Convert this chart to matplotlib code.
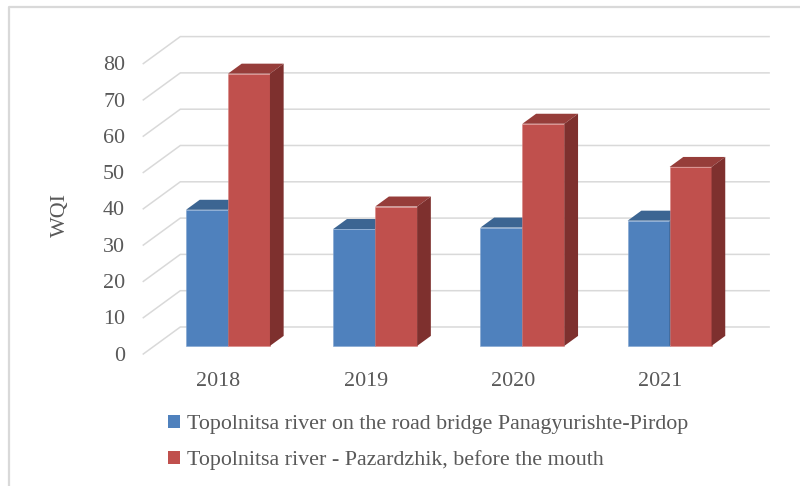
import numpy as np
import matplotlib.pyplot as plt
from matplotlib.patches import Polygon, Rectangle
from matplotlib.lines import Line2D

years = ['2018', '2019', '2020', '2021']
bridge = [37.5, 32.2, 32.6, 34.5]
pazardzhik = [75.0, 38.4, 61.2, 49.3]
series_names = ['Topolnitsa river on the road bridge Panagyurishte-Pirdop',
                'Topolnitsa river - Pazardzhik, before the mouth']
yticks = [0, 10, 20, 30, 40, 50, 60, 70, 80]

# colours: front, top, side
blue = ('#4F81BD', '#3C6592', '#2F5075')
red = ('#C0504D', '#963D3A', '#7E302E')

plt.rcParams['font.family'] = ['Liberation Serif', 'DejaVu Serif']
txt_col = '#595959'
grid_col = '#D9D9D9'
fs = 15.8

# depth of the box (fake 3d), in data units
DX = 0.2514
DY = 7.44
d_front, d_back = 0.3, 0.67
bw = 0.285


def proj(x, v, d):
    return (x + d * DX, v + d * DY)


fig = plt.figure(figsize=(8, 4.86), dpi=100)
ax = fig.add_axes([0, 0, 1, 1])
ax.set_xlim(-216.9 / 147.2, (800 - 216.9) / 147.2)
ax.set_ylim(-(486 - 354) / 3.63, 354 / 3.63)
ax.axis('off')

# walls
for v in yticks:
    x0, y0 = proj(-0.5, v, 0)
    x1, y1 = proj(-0.5, v, 1)
    x2, y2 = proj(3.5, v, 1)
    ax.plot([x0, x1, x2], [y0, y1, y2], color=grid_col, lw=1.1,
            solid_joinstyle='miter', zorder=1)
    ax.text(-0.624, v - 0.6, str(v), ha='right', va='center',
            fontsize=fs, color=txt_col)

# bars
for i in range(len(years)):
    for vals, cols, x0 in ((bridge, blue, i - bw), (pazardzhik, red, i)):
        h = vals[i]
        x1 = x0 + bw
        fx, fy = proj(x0, 0, d_front)
        ax.bar(fx, h, width=bw, bottom=fy, align='edge', color=cols[0],
               edgecolor='#7FA3D0' if cols is blue else '#D98583',
               linewidth=0.4, zorder=3)
        top = [proj(x0, h, d_front), proj(x1, h, d_front),
               proj(x1, h, d_back), proj(x0, h, d_back)]
        side = [proj(x1, 0, d_front), proj(x1, h, d_front),
                proj(x1, h, d_back), proj(x1, 0, d_back)]
        ax.add_patch(Polygon(top, closed=True, fc=cols[1], ec='none', zorder=3))
        ax.add_patch(Polygon(side, closed=True, fc=cols[2], ec='none', zorder=3))

# category labels along the floor edge
for i, yr in enumerate(years):
    ax.text(i + 0.01, -7.7, yr, ha='center', va='center',
            fontsize=fs, color=txt_col)

fig.text(60 / 800, 1 - 215 / 486, 'WQI', rotation=90, ha='center',
         va='center', fontsize=fs, color=txt_col)

# legend
handles = [Rectangle((0, 0), 1, 1, fc=blue[0]), Rectangle((0, 0), 1, 1, fc=red[0])]
fig.legend(handles, series_names, loc='upper left',
           bbox_to_anchor=(168 / 800, 1 - 415 / 486), frameon=False,
           fontsize=fs, labelcolor=txt_col, handlelength=0.55,
           handleheight=0.55, handletextpad=0.3, labelspacing=0.72,
           borderpad=0, borderaxespad=0)

# chart frame
fig.add_artist(Line2D([9 / 800, 9 / 800, 1], [0, 1 - 7 / 486, 1 - 7 / 486],
                      transform=fig.transFigure, color=grid_col, lw=1.6))

# tail of the preceding text line
fig.text(0, 1 + 6 / 486, 'quality', fontsize=20, va='baseline', color='black')
fig.text(180 / 800, 1 + 6 / 486, '(Fig. 5)', fontsize=20, va='baseline',
         color='black')

fig.savefig('out.png', dpi=100)
